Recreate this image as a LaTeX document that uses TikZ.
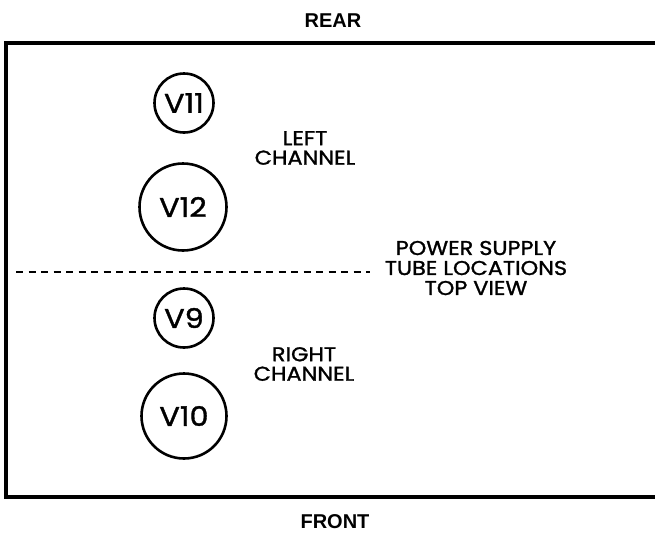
\documentclass[tikz,border=0pt]{standalone}
\usepackage{fontspec}
\usetikzlibrary{positioning}
\newfontfamily\tubefont[FakeStretch=1.12, FakeBold=1.3]{Poppins}
\newfontfamily\sidefont{Liberation Sans}

\begin{document}
\begin{tikzpicture}[x=1pt,y=-1pt,node distance=30pt,
    tube/.style={draw, circle, line width=2.6pt, inner sep=0pt,
        font=\tubefont\fontsize{27}{27}\selectfont},
    chantext/.style={align=center, inner sep=0pt,
        font=\tubefont\fontsize{20}{19.5}\selectfont},
    sidetext/.style={inner sep=0pt, font=\sidefont\bfseries\fontsize{20}{20}\selectfont}]
    \useasboundingbox (0,0) rectangle (655,536);

    % Chassis outline (right side runs off the page)
    \draw[line width=4pt] (655,43) -- (6,43) -- (6,497) -- (655,497);

    % Rear and front
    \node[sidetext] (rear) at (333,21) {REAR};
    \node[sidetext] (front) at (335,522) {FRONT};

    % Left channel
    \node[tube, minimum size=59pt] (v11) at (184,103) {V11};
    \node[tube, minimum size=87pt] (v12) at (183,207) {V12};
    \node[chantext] (leftch) at (305,148) {LEFT\\CHANNEL};

    % Right channel
    \node[tube, minimum size=59pt] (v9) at (184,318) {V9};
    \node[tube, minimum size=85pt] (v10) at (184,416) {V10};
    \node[chantext] (rightch) at (304,364) {RIGHT\\CHANNEL};

    % Divider and title
    \node[chantext, font=\tubefont\fontsize{20}{20}\selectfont] (psu) at (476,268)
        {POWER SUPPLY\\TUBE LOCATIONS\\TOP VIEW};
    \coordinate (divstart) at (16,272);
    \draw[line width=2.2pt, dash pattern=on 7pt off 5.5pt, shorten >=15pt]
        (divstart) -- (divstart -| psu.west);
\end{tikzpicture}
\end{document}
